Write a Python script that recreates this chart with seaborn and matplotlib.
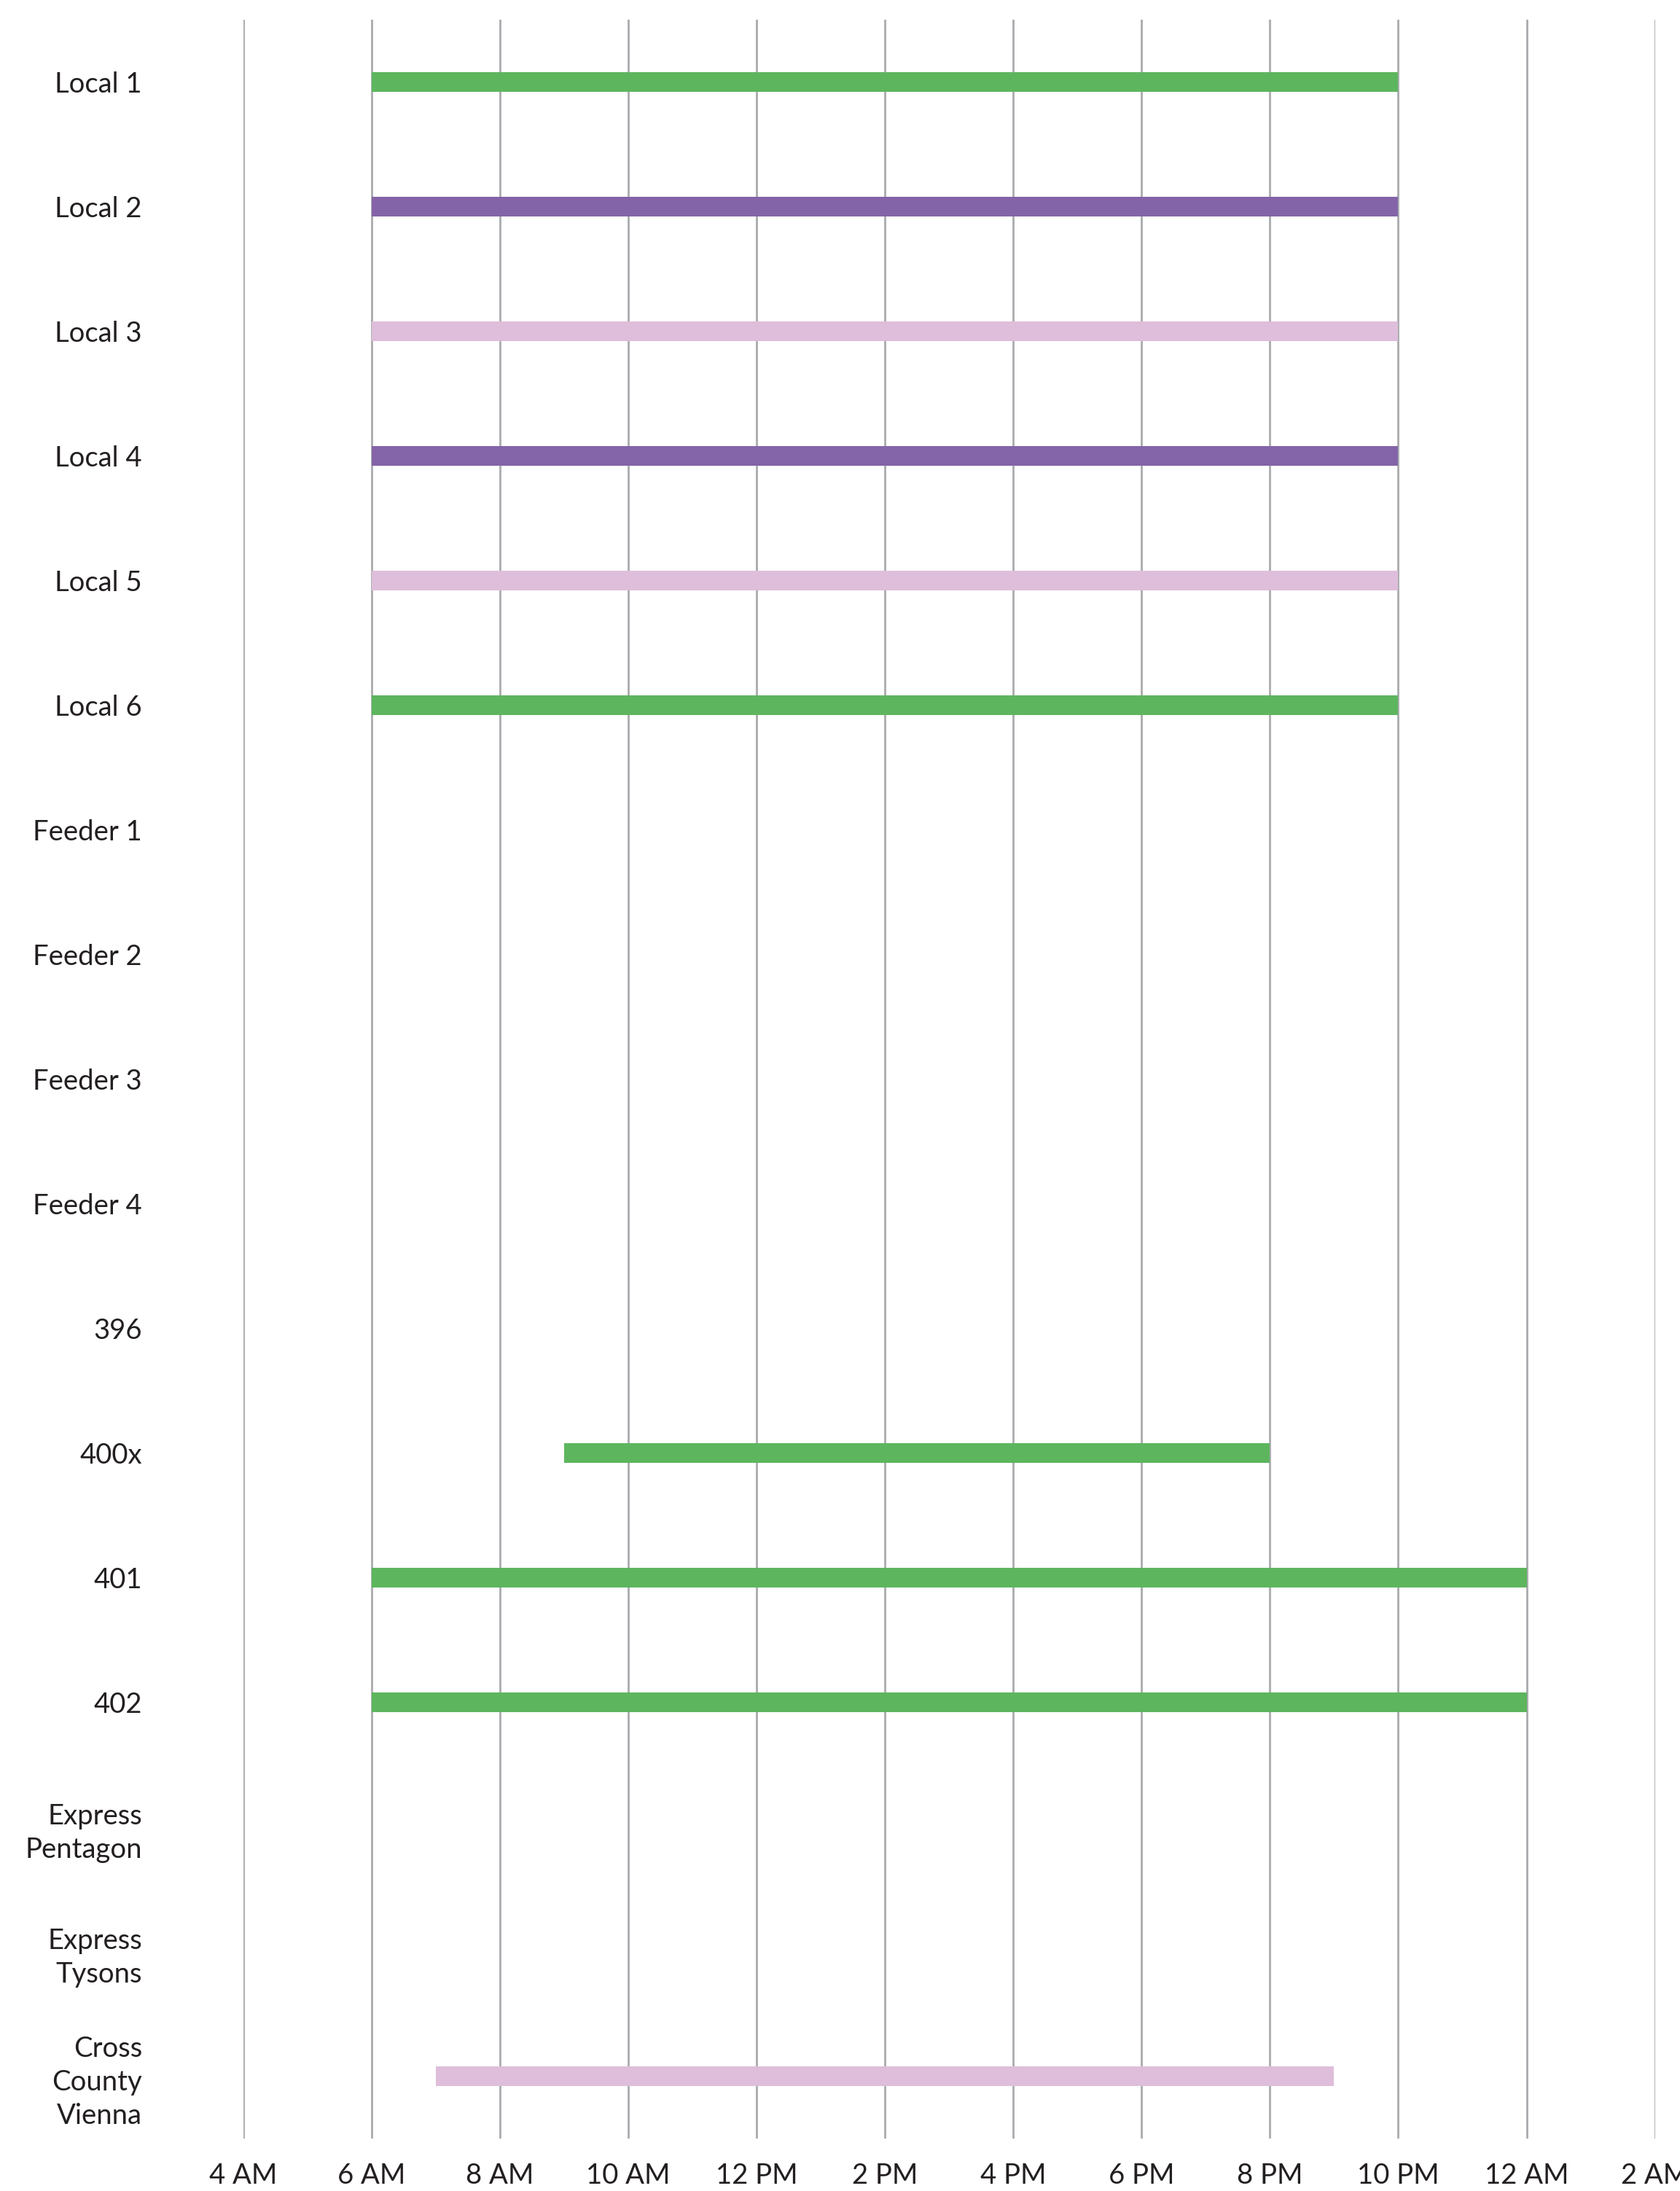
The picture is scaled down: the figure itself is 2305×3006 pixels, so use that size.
import matplotlib
matplotlib.use("Agg")
import matplotlib.pyplot as plt
import seaborn as sns
import pandas as pd

# Routes, top to bottom
routes = [
    "Local 1", "Local 2", "Local 3", "Local 4", "Local 5", "Local 6",
    "Feeder 1", "Feeder 2", "Feeder 3", "Feeder 4",
    "396", "400x", "401", "402",
    "Express\nPentagon", "Express\nTysons", "Cross\nCounty\nVienna",
]
# Service span in hours of the day (24 = midnight); None = no service shown
span_start = [6, 6, 6, 6, 6, 6, None, None, None, None, None, 9, 6, 6, None, None, 7]
span_end = [22, 22, 22, 22, 22, 22, None, None, None, None, None, 20, 24, 24, None, None, 21]
span_band = ["green", "purple", "pink", "purple", "pink", "green",
             None, None, None, None, None, "green", "green", "green", None, None, "pink"]

band_colors = {"green": "#5DB55E", "purple": "#8464A8", "pink": "#DEBEDA"}

hour_ticks = [4, 6, 8, 10, 12, 14, 16, 18, 20, 22, 24, 26]
hour_labels = ["4 AM", "6 AM", "8 AM", "10 AM", "12 PM", "2 PM",
               "4 PM", "6 PM", "8 PM", "10 PM", "12 AM", "2 AM"]

sns.set_theme(style="white")
plt.rcParams["font.family"] = ["Liberation Sans Narrow", "Lato", "DejaVu Sans"]

fig = plt.figure(figsize=(23.05, 30.06), dpi=100)
ax = fig.add_axes([0.1448, 0.0240, 0.8403, 0.9671])

df = pd.DataFrame({"route": routes, "start": span_start, "end": span_end, "band": span_band}).dropna()
df["span"] = df["end"] - df["start"]

for _, row in df.iterrows():
    sns.barplot(
        x=[row["span"]], y=[row["route"]], order=routes, orient="h",
        color=band_colors[row["band"]], saturation=1, width=0.157,
        left=row["start"], linewidth=0, ax=ax,
    )

ax.set_xlim(hour_ticks[0], hour_ticks[-1])
ax.set_ylim(len(routes) - 0.5, -0.5)
ax.set_xticks(hour_ticks)
ax.set_xticklabels(hour_labels)
ax.set_xlabel("")
ax.set_ylabel("")
ax.set_axisbelow(True)
ax.grid(axis="x", color="#A9AAAD", linewidth=2.0)
ax.grid(axis="y", visible=False)
for s in ax.spines.values():
    s.set_visible(False)

ax.tick_params(axis="y", length=0, pad=100, labelsize=27.5, labelcolor="#231F20")
ax.tick_params(axis="x", length=0, pad=24, labelsize=27.5, labelcolor="#231F20")
for t in ax.get_yticklabels():
    t.set_horizontalalignment("right")
    t.set_linespacing(1.35)

fig.savefig("out.png", dpi=100)
